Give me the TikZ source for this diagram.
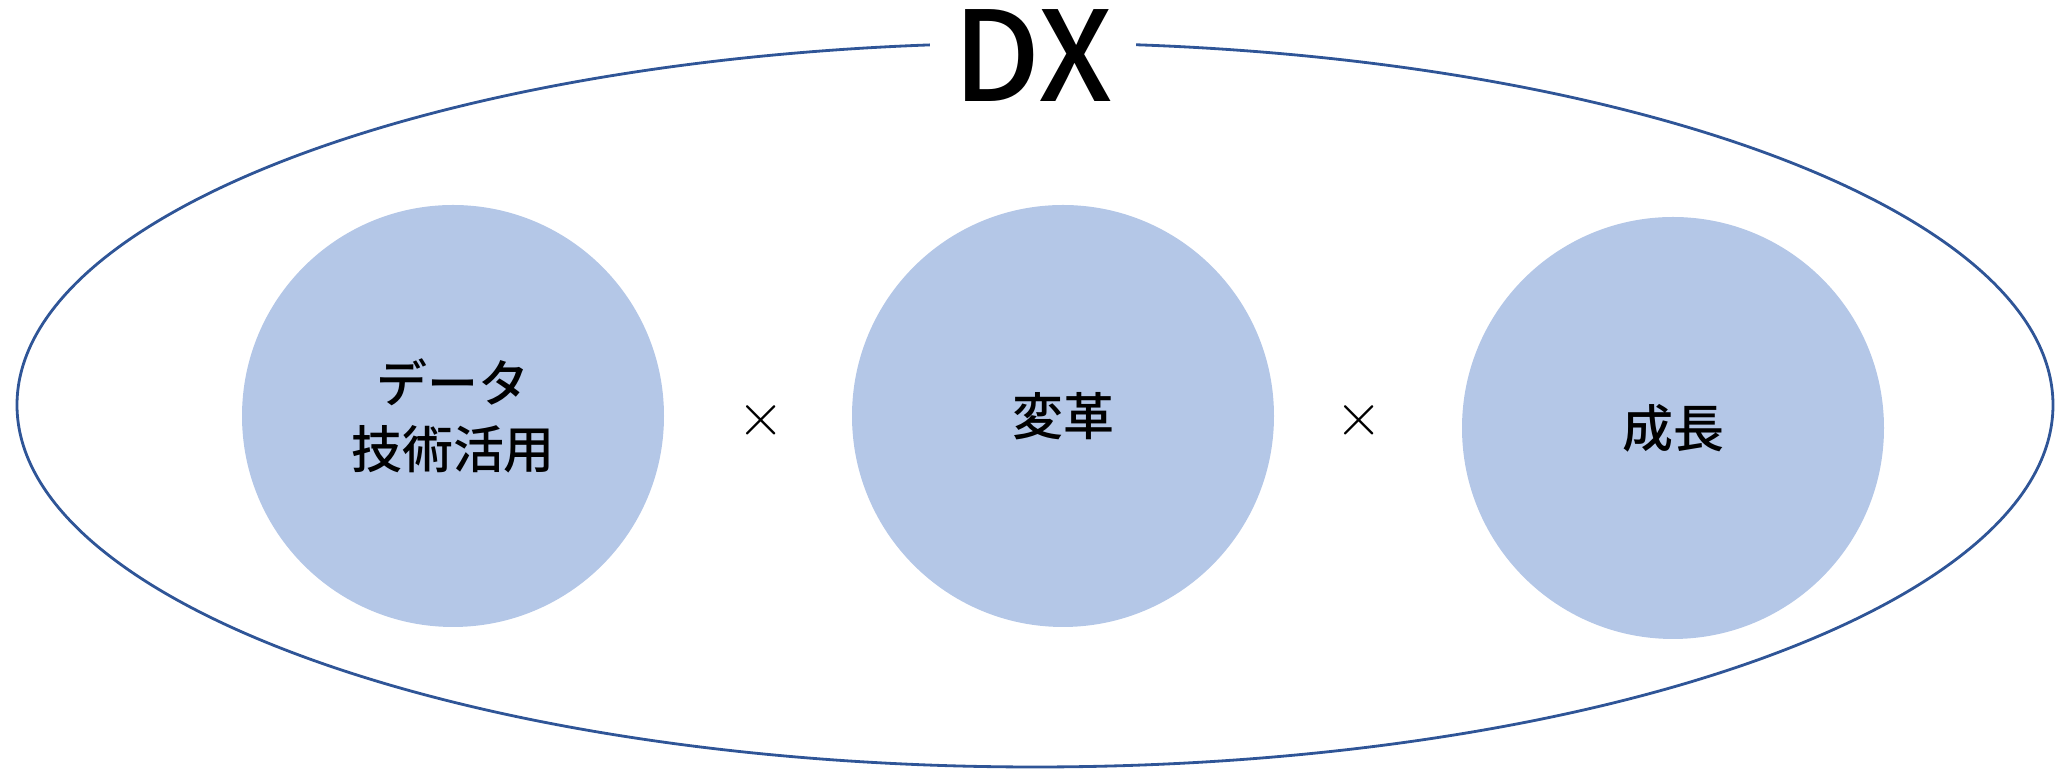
\documentclass[tikz,border=0pt]{standalone}
\usepackage{fontspec}
\newfontfamily\jpfont{Noto Sans CJK JP Medium}
\usepackage{tikz}

\begin{document}
\begin{tikzpicture}
	\definecolor{cring}{rgb}{0.184,0.333,0.592}
	\definecolor{cfv}{rgb}{0.706,0.780,0.906}
	\tikzset{
		vtx/.style={circle,fill=cfv,minimum size=4.22cm,inner sep=0pt,align=center,
			font=\jpfont\fontsize{14.5}{18.8}\selectfont},
		op/.style={inner sep=0pt,font=\fontsize{18}{18}\selectfont}
	}
	\useasboundingbox (0,0) rectangle (20.57,7.71);
	%
	\draw[cring,line width=0.8pt] (10.35,3.66) ellipse [x radius=10.18cm,y radius=3.62cm];
	\node[fill=white,anchor=base,inner xsep=0.24cm,inner ysep=0pt,text height=0.92cm,text depth=0pt,
		font=\jpfont\fontsize{35.5}{35.5}\selectfont] (dx) at (10.33,6.69) {DX};
	%
	\node[vtx] (v0) at (4.53,3.55) {データ\\技術活用};
	\node[vtx] (v1) at (10.63,3.55) {変革};
	\node[vtx] (v2) at (16.73,3.43) {成長};
	%
	\node[op] (x0) at (7.61,3.51) {$\times$};
	\node[op] (x1) at (13.59,3.51) {$\times$};
	%
\end{tikzpicture}
\end{document}
